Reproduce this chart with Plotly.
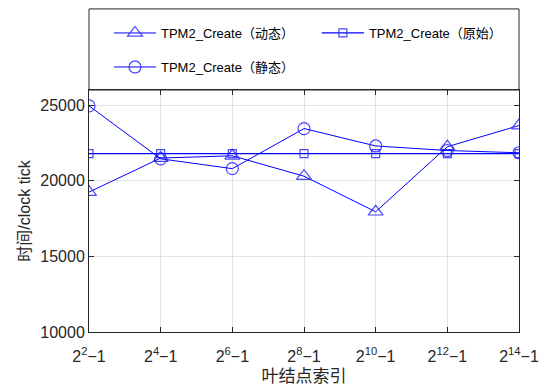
import plotly.graph_objects as go

x_vals = [2, 4, 6, 8, 10, 12, 14]
x_labels = ["2<sup>2</sup>−1", "2<sup>4</sup>−1", "2<sup>6</sup>−1", "2<sup>8</sup>−1",
            "2<sup>10</sup>−1", "2<sup>12</sup>−1", "2<sup>14</sup>−1"]
y_ticks = [10000, 15000, 20000, 25000]
y_labels = ["10000", "15000", "20000", "25000"]
dynamic = [19250, 21500, 21650, 20300, 17950, 22250, 23650]
original = [21800, 21800, 21800, 21800, 21800, 21800, 21800]
static = [24950, 21450, 20800, 23450, 22300, 22000, 21850]

names = ["TPM2_Create（动态）", "TPM2_Create（原始）", "TPM2_Create（静态）"]
line_col = "rgb(0,0,255)"
mk_col = "rgba(40,40,255,0.85)"

fig = go.Figure()
fig.add_trace(go.Scatter(x=x_vals, y=dynamic, mode="lines+markers", name=names[0],
                         line=dict(color=line_col, width=1),
                         marker=dict(symbol="triangle-up-open", size=13, color=mk_col,
                                     line=dict(width=1.2)),
                         legend="legend"))
fig.add_trace(go.Scatter(x=x_vals, y=original, mode="lines+markers", name=names[1],
                         line=dict(color=line_col, width=1.3),
                         marker=dict(symbol="square-open", size=8, color=mk_col,
                                     line=dict(width=1.2)),
                         legend="legend2"))
fig.add_trace(go.Scatter(x=x_vals, y=static, mode="lines+markers", name=names[2],
                         line=dict(color=line_col, width=1),
                         marker=dict(symbol="circle-open", size=12, color=mk_col,
                                     line=dict(width=1.2)),
                         legend="legend3"))

font_main = "Liberation Sans, Arial, Noto Sans CJK SC, sans-serif"
leg_common = dict(orientation="h", xanchor="left", yanchor="middle",
                  font=dict(size=13, color="#000000"), bgcolor="rgba(0,0,0,0)",
                  itemwidth=42)

fig.update_layout(
    width=544, height=386,
    margin=dict(l=89, r=25, t=90, b=54, autoexpand=False),
    paper_bgcolor="white", plot_bgcolor="white",
    font=dict(family=font_main, size=16, color="#262626"),
    showlegend=True,
    legend=dict(x=0.0465, y=1.2355, **leg_common),
    legend2=dict(x=0.530, y=1.2355, **leg_common),
    legend3=dict(x=0.0465, y=1.095, **leg_common),
    shapes=[dict(type="rect", xref="paper", yref="paper", x0=0, x1=1, y0=1.0, y1=1.335,
                 line=dict(color="#262626", width=1), fillcolor="rgba(0,0,0,0)")],
)

fig.update_xaxes(range=[2, 14], tickvals=x_vals, ticktext=x_labels, automargin=False,
                 showgrid=True, gridcolor="#e3e3e3", gridwidth=1,
                 showline=True, linecolor="#262626", linewidth=1, mirror="ticks",
                 ticks="inside", ticklen=5, tickcolor="#262626",
                 ticklabelstandoff=10,
                 tickfont=dict(size=16, color="#262626"),
                 title=dict(text="叶结点索引", font=dict(size=17, color="#262626"), standoff=5),
                 zeroline=False)
fig.update_yaxes(range=[10000, 26000], tickvals=y_ticks, ticktext=y_labels, automargin=False,
                 showgrid=True, gridcolor="#e3e3e3", gridwidth=1,
                 showline=True, linecolor="#262626", linewidth=1, mirror="ticks",
                 ticks="inside", ticklen=5, tickcolor="#262626",
                 tickfont=dict(size=16, color="#262626"),
                 title=dict(text="时间/clock tick", font=dict(size=16, color="#262626"), standoff=5),
                 zeroline=False)

fig.write_html("out.html", config={"displayModeBar": False},
               post_script="document.body.style.margin='0px';")
